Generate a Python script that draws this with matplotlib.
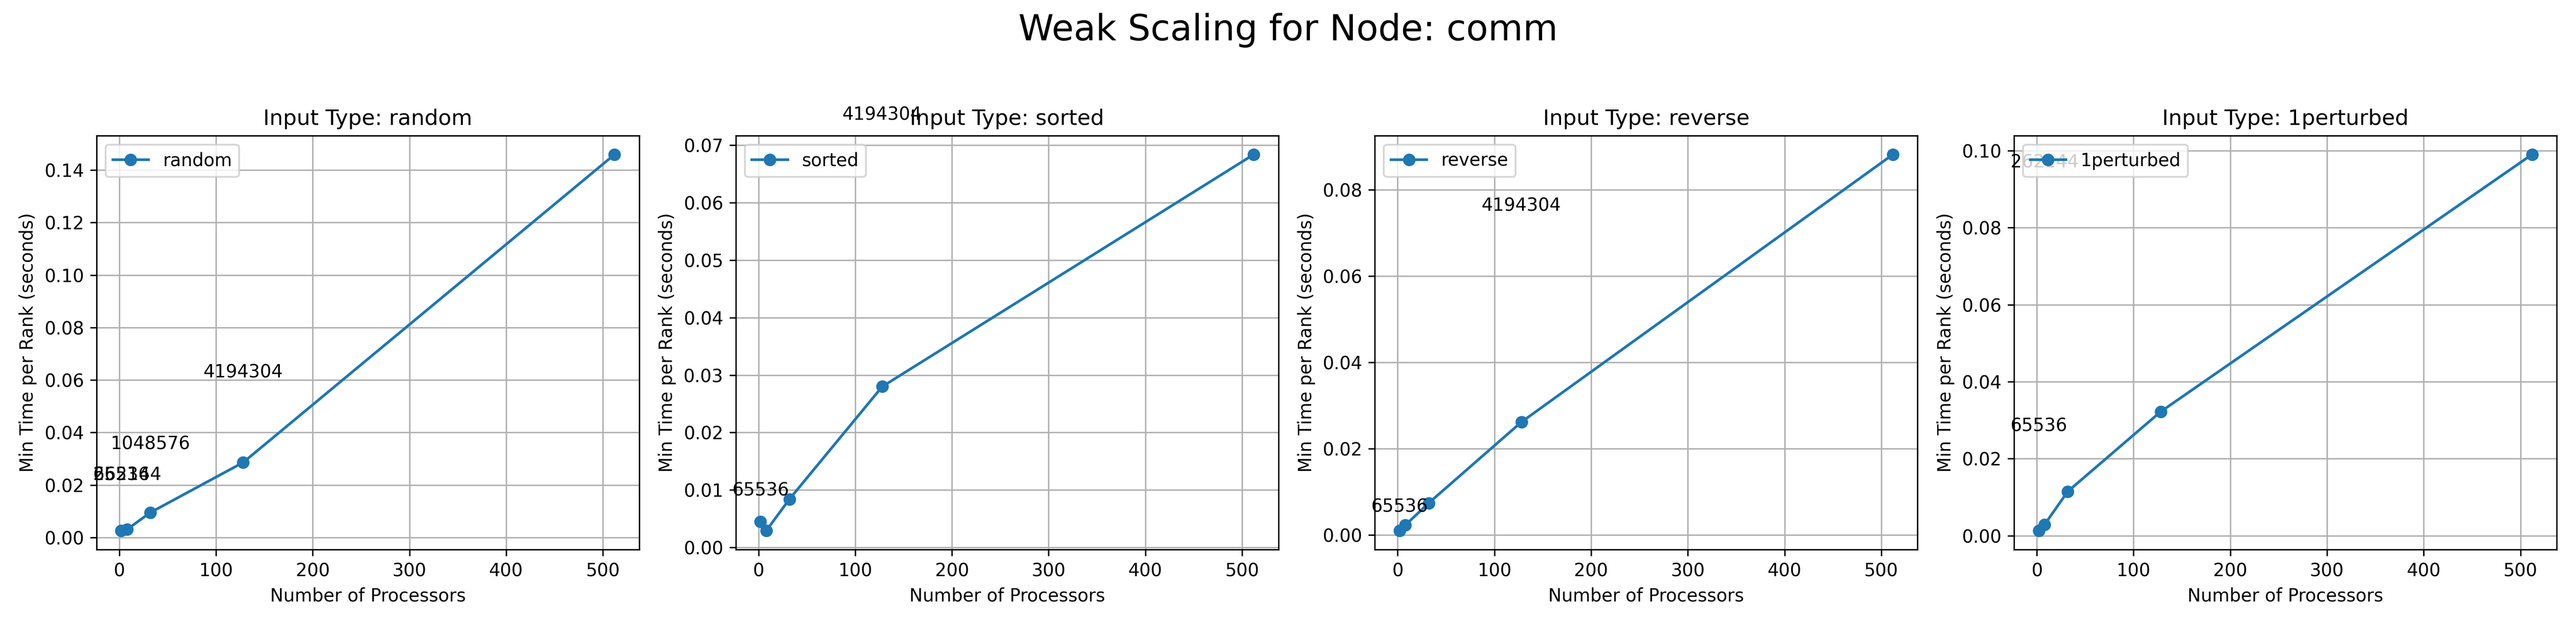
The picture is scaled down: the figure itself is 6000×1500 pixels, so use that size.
import matplotlib
matplotlib.use("Agg")
import matplotlib.pyplot as plt

# Weak scaling data for node "comm"
processors = [2, 8, 32, 128, 512]
input_types = ["random", "sorted", "reverse", "1perturbed"]

time_random = [0.0026, 0.0031, 0.0095, 0.0286, 0.1459]
time_sorted = [0.0045, 0.0029, 0.0084, 0.0280, 0.0684]
time_reverse = [0.0010, 0.0023, 0.0074, 0.0262, 0.0882]
time_1perturbed = [0.0013, 0.0029, 0.0115, 0.0322, 0.0990]

# problem sizes written next to the points (None = not visible in the chart)
sizes = [65536, 262144, 1048576, 4194304, 16777216]
label_y_random = [0.0219, 0.0219, 0.0336, 0.0609, None]
label_y_sorted = [0.0090, None, None, 0.0744, None]
label_y_reverse = [0.0053, None, None, 0.0751, None]
label_y_1perturbed = [0.0271, 0.0956, None, None, None]

times = [time_random, time_sorted, time_reverse, time_1perturbed]
label_ys = [label_y_random, label_y_sorted, label_y_reverse, label_y_1perturbed]


def main():
    fig, axes = plt.subplots(1, 4, figsize=(20, 5))
    fig.suptitle("Weak Scaling for Node: comm", fontsize=20)

    for ax, name, t, ly in zip(axes, input_types, times, label_ys):
        ax.plot(processors, t, marker="o", label=name)
        for p, s, y in zip(processors, sizes, ly):
            if y is not None:
                ax.text(p, y, str(s), ha="center")
        ax.set_title(f"Input Type: {name}")
        ax.set_xlabel("Number of Processors")
        ax.set_ylabel("Min Time per Rank (seconds)")
        ax.legend(loc="upper left")
        ax.grid(True)

    plt.subplots_adjust(left=0.0375, right=0.9925, bottom=0.1467, top=0.7893, wspace=0.178)
    plt.savefig("out.png", dpi=300)


if __name__ == "__main__":
    main()
